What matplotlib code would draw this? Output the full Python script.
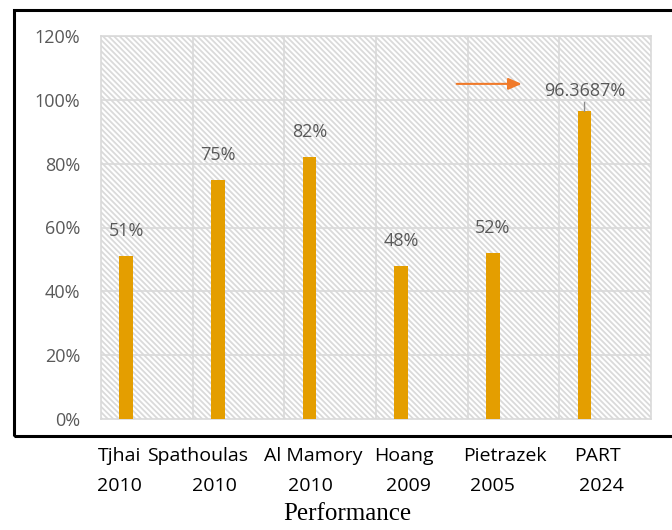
import matplotlib
matplotlib.use("Agg")
import matplotlib.pyplot as plt
from matplotlib.patches import Rectangle

# data
names = ["Tjhai", "Spathoulas", "Al Mamory", "Hoang", "Pietrazek", "PART"]
years = ["2010", "2010", "2010", "2009", "2005", "2024"]
values = [51, 75, 82, 48, 52, 96.3687]
labels = ["51%", "75%", "82%", "48%", "52%", "96.3687%"]
yticks = [0, 20, 40, 60, 80, 100, 120]

# layout (figure pixels) for the free-standing category text
name_x = [120, 198, 313, 404, 505, 598]
year_x = [119, 214, 310, 408, 492, 601]

W, H = 672, 530
plt.rcParams["hatch.linewidth"] = 1.3
fig = plt.figure(figsize=(W / 100, H / 100), dpi=100)
ax = fig.add_axes([101 / W, 1 - 419 / H, 550 / W, 383 / H])

grey = "#d9d9d9"
ax.add_patch(Rectangle((0, 0), 1, 1, transform=ax.transAxes, facecolor="white",
                       edgecolor="#dadada", hatch="\\\\\\\\\\\\", lw=0, zorder=0))
ax.patch.set_visible(False)

x = list(range(len(values)))
ax.bar([i - 0.225 for i in x], values, width=0.15, color="#E49E00", zorder=3)

ax.set_xlim(-0.5, len(values) - 0.5)
ax.set_ylim(0, 120)
ax.set_yticks(yticks)
ax.set_yticklabels([f"{t}%" for t in yticks], color="#595959", fontsize=13,
                   family="Open Sans")
ax.tick_params(axis="y", length=0, pad=15)
ax.set_xticks([])
for v in yticks[1:]:
    ax.axhline(v, color=grey, lw=1.2, zorder=1)
for b in range(1, len(values)):
    ax.axvline(b - 0.5, color=grey, lw=1.2, zorder=1)
for s in ax.spines.values():
    s.set_color(grey)
    s.set_linewidth(1.2)

for i, (v, lab) in enumerate(zip(values, labels)):
    if i == len(values) - 1:
        # the last label sits close to its bar with a short leader line
        ax.annotate(lab, xy=(i - 0.225, v), xytext=(i - 0.225, v + 6.5),
                    ha="center", va="center", color="#595959", fontsize=13,
                    family="Open Sans", zorder=4,
                    arrowprops=dict(arrowstyle="-", color="#8c8c8c", lw=1,
                                    shrinkA=0, shrinkB=0))
    else:
        ax.text(i - 0.225, v + 7.8, lab, ha="center", va="center",
                color="#595959", fontsize=13, family="Open Sans", zorder=4)

# orange arrow pointing to PART
ax.annotate("", xy=(4.12, 105), xytext=(3.35, 105),
            arrowprops=dict(arrowstyle="-|>,head_length=0.8,head_width=0.35",
                            color="#F07A2A", lw=1.5))

# outer black frame
fig.add_artist(Rectangle((14 / W, 1 - 436 / H), (W + 10) / W, 426 / H,
                         transform=fig.transFigure, fill=False,
                         edgecolor="black", lw=2.2))

for xn, n in zip(name_x, names):
    fig.text(xn / W, 1 - 456 / H, n, ha="center", va="center",
             fontsize=14, family="Open Sans", color="black")
for xy, yr in zip(year_x, years):
    fig.text(xy / W, 1 - 486 / H, yr, ha="center", va="center",
             fontsize=14, family="Open Sans", color="black")
fig.text(347 / W, 1 - 514 / H, "Performance", ha="center", va="center",
         fontsize=18, family="Liberation Serif", color="black")

fig.savefig("out.png", dpi=100)
